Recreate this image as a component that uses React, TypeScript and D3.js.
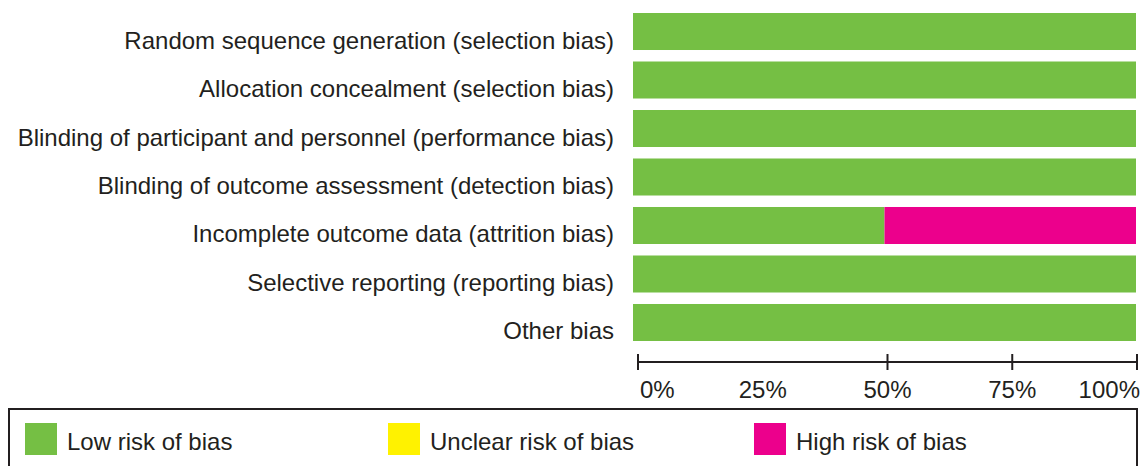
import React, { useEffect, useRef } from 'react';
import * as d3 from 'd3';

// risk of bias domains, top to bottom
const domains = [
  'Random sequence generation (selection bias)',
  'Allocation concealment (selection bias)',
  'Blinding of participant and personnel (performance bias)',
  'Blinding of outcome assessment (detection bias)',
  'Incomplete outcome data (attrition bias)',
  'Selective reporting (reporting bias)',
  'Other bias',
];

// percent of studies per judgement
const lowRisk = [100, 100, 100, 100, 50, 100, 100];
const unclearRisk = [0, 0, 0, 0, 0, 0, 0];
const highRisk = [0, 0, 0, 0, 50, 0, 0];

const tickValues = [0, 25, 50, 75, 100];
const tickLabels = ['0%', '25%', '50%', '75%', '100%'];

const legendLabels = ['Low risk of bias', 'Unclear risk of bias', 'High risk of bias'];
const legendColors = ['#75bf44', '#fff200', '#ec008c'];

const RiskOfBiasGraph: React.FC = () => {
  const ref = useRef<SVGSVGElement>(null);

  useEffect(() => {
    if (!ref.current) return;
    const svg = d3.select(ref.current);
    svg.selectAll('*').remove();

    const font = '"Liberation Sans", Arial, Helvetica, sans-serif';
    const textColor = '#231f20';

    const x = d3.scaleLinear().domain([0, 100]).range([633, 1136]);
    const xAxisScale = d3.scaleLinear().domain([0, 100]).range([638, 1137]);
    const y = d3.scaleBand<string>()
      .domain(domains)
      .range([13, 341])
      .paddingInner(0.237)
      .paddingOuter(0);

    const rows = domains.map((name, i) => ({
      name,
      segs: [
        { key: 0, start: 0, val: lowRisk[i] },
        { key: 1, start: lowRisk[i], val: unclearRisk[i] },
        { key: 2, start: lowRisk[i] + unclearRisk[i], val: highRisk[i] },
      ].filter(s => s.val > 0),
    }));

    // bars
    const rowG = svg.selectAll('.row')
      .data(rows)
      .enter()
      .append('g')
      .attr('class', 'row');

    rowG.selectAll('rect')
      .data(d => d.segs.map(s => ({ ...s, name: d.name })))
      .enter()
      .append('rect')
      .attr('x', d => x(d.start))
      .attr('y', d => y(d.name)!)
      .attr('width', d => x(d.start + d.val) - x(d.start))
      .attr('height', y.bandwidth())
      .attr('fill', d => legendColors[d.key]);

    // domain labels
    rowG.append('text')
      .attr('x', 614)
      .attr('y', d => y(d.name)! + y.bandwidth() / 2 + 17)
      .attr('text-anchor', 'end')
      .style('font-family', font)
      .style('font-size', '24px')
      .style('fill', textColor)
      .text(d => d.name);

    // axis
    const axisY = 362;
    const axis = svg.append('g');
    axis.append('line')
      .attr('x1', xAxisScale(0))
      .attr('x2', xAxisScale(100))
      .attr('y1', axisY)
      .attr('y2', axisY)
      .attr('stroke', '#231f20')
      .attr('stroke-width', 2);

    // the 25% tick has no mark in the original
    axis.selectAll('.tick')
      .data(tickValues.filter(v => v !== 25))
      .enter()
      .append('line')
      .attr('x1', d => xAxisScale(d))
      .attr('x2', d => xAxisScale(d))
      .attr('y1', axisY - 8)
      .attr('y2', axisY + 8)
      .attr('stroke', '#231f20')
      .attr('stroke-width', 2);

    axis.selectAll('.tick-label')
      .data(tickValues)
      .enter()
      .append('text')
      .attr('x', (d, i) => xAxisScale(d) + (i === 0 ? 2 : i === tickValues.length - 1 ? 3 : 0))
      .attr('y', 398)
      .attr('text-anchor', (d, i) => (i === 0 ? 'start' : i === tickValues.length - 1 ? 'end' : 'middle'))
      .style('font-family', font)
      .style('font-size', '24px')
      .style('fill', textColor)
      .text((d, i) => tickLabels[i]);

    // legend
    svg.append('rect')
      .attr('x', 9)
      .attr('y', 409)
      .attr('width', 1128)
      .attr('height', 80)
      .attr('fill', 'none')
      .attr('stroke', '#231f20')
      .attr('stroke-width', 2);

    const legendX = [25, 388, 754];
    const leg = svg.selectAll('.legend-item')
      .data(legendLabels)
      .enter()
      .append('g')
      .attr('transform', (d, i) => `translate(${legendX[i]}, 423)`);

    leg.append('rect')
      .attr('width', 32)
      .attr('height', 32)
      .attr('fill', (d, i) => legendColors[i]);

    leg.append('text')
      .attr('x', 42)
      .attr('y', 27)
      .style('font-family', font)
      .style('font-size', '24px')
      .style('fill', textColor)
      .text(d => d);
  }, []);

  return (
    <svg
      ref={ref}
      width={1144}
      height={466}
      style={{ position: 'absolute', left: 0, top: 0, background: '#fff' }}
    />
  );
};

export default function App() {
  return <RiskOfBiasGraph />;
}
